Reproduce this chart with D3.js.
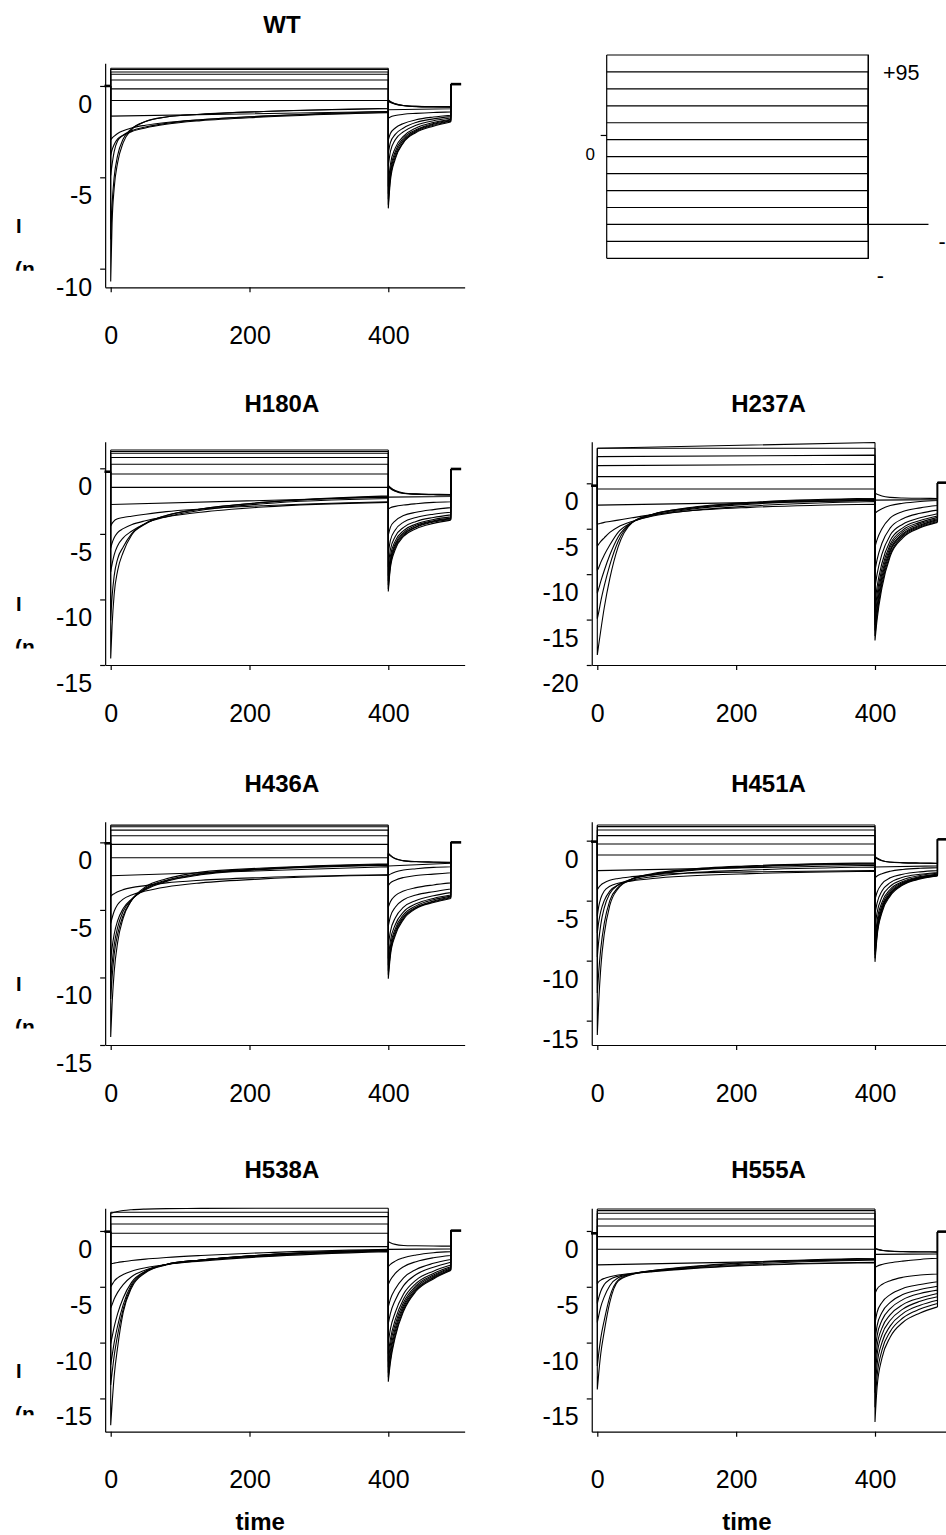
<!DOCTYPE html>
<html><head><meta charset="utf-8">
<script src="https://cdn.jsdelivr.net/npm/d3@7"></script>
<style>
html,body{margin:0;padding:0;background:#fff;}
svg{display:block;}
</style></head><body>
<svg id="chart" width="946" height="1535"></svg>
<script>
// ---------------- DATA ----------------
const pulseTimes = [0, 2, 5, 10, 18, 30, 50, 80, 130, 220, 400];
const tailTimes = [400, 403, 410, 422, 440, 465, 490];
const xTickValues = [0, 200, 400];
const panelNames = ["WT", "H180A", "H237A", "H436A", "H451A", "H538A", "H555A"];
const yDomains = [[-11.02, 1.24], [-15, 2.03], [-20, 4.58], [-15, 1.53], [-17.03, 1.58], [-17.98, 2.03], [-17.98, 2.03]];
const yTickValues = [[0, -5, -10], [0, -5, -10, -15], [0, -5, -10, -15, -20], [0, -5, -10, -15], [0, -5, -10, -15], [0, -5, -10, -15], [0, -5, -10, -15]];
const holdingCurrent = [0, -0.26, -0.26, -0.07, -0.08, -0.06, -0.21];
const postCurrent = [0.1, -0.05, 0.07, 0, 0.11, 0.03, -0.06];

// pulse traces (values at pulseTimes; a single number = flat, two numbers = start/end)
const wtPulse = [0.97, 0.9, 0.76, 0.64, 0.33, -0.16, -0.80,
  [-1.65, -1.4],
  [-2.95, -2.85, -2.75, -2.6, -2.45, -2.3, -2.15, -2.0, -1.85, -1.65, -1.45],
  [-3.8, -3.5, -3.2, -2.9, -2.7, -2.5, -2.3, -2.1, -1.9, -1.7, -1.45],
  [-4.9, -4.3, -3.6, -3.0, -2.7, -2.45, -2.25, -2.05, -1.85, -1.65, -1.4],
  [-8.4, -6.5, -5.0, -3.8, -2.9, -2.35, -1.95, -1.7, -1.55, -1.4, -1.25],
  [-10.7, -7.5, -5.6, -4.2, -3.1, -2.4, -1.95, -1.7, -1.55, -1.4, -1.22]];
const wtTail = [
  [-6.7, -5.2, -4.0, -3.1, -2.55, -2.2, -1.97],
  [-6.5, -5.0, -3.9, -3.05, -2.5, -2.15, -1.93],
  [-6.2, -4.8, -3.75, -2.95, -2.45, -2.1, -1.9],
  [-5.9, -4.6, -3.6, -2.85, -2.4, -2.05, -1.86],
  [-5.5, -4.3, -3.4, -2.75, -2.3, -2.0, -1.82],
  [-4.4, -3.6, -2.95, -2.5, -2.15, -1.9, -1.75],
  [-3.7, -3.1, -2.65, -2.3, -2.0, -1.8, -1.68],
  [-2.96, -2.6, -2.3, -2.05, -1.85, -1.7, -1.6],
  [-1.77, -1.7, -1.62, -1.55, -1.5, -1.45, -1.42],
  [-1.3, -1.25],
  [-0.77, -0.85, -0.97, -1.07, -1.12, -1.13, -1.13],
  [-0.8, -0.88, -0.98, -1.07, -1.12, -1.14, -1.15],
  [-0.85, -0.9, -1.0, -1.08, -1.13, -1.15, -1.16]];

const h180aPulse = [1.4, 1.28, 1.15, 0.82, 0.31, -0.43, -1.45,
  [-2.76, -2.2],
  [-4.4, -4.2, -4.0, -3.85, -3.75, -3.65, -3.5, -3.3, -3.1, -2.85, -2.55],
  [-6.1, -5.7, -5.3, -4.9, -4.6, -4.3, -4.0, -3.7, -3.35, -2.95, -2.6],
  [-7.9, -7.3, -6.6, -5.9, -5.3, -4.8, -4.2, -3.7, -3.2, -2.7, -2.3],
  [-11.6, -9.8, -8.2, -6.9, -6.0, -5.0, -4.2, -3.6, -3.1, -2.6, -2.15],
  [-14.5, -12.0, -9.6, -7.8, -6.4, -5.1, -4.25, -3.6, -3.1, -2.6, -2.1]];
const h180aTail = [
  [-9.4, -7.6, -6.2, -5.2, -4.6, -4.2, -3.95],
  [-9.2, -7.4, -6.05, -5.1, -4.5, -4.1, -3.9],
  [-8.9, -7.2, -5.9, -5.0, -4.45, -4.05, -3.85],
  [-8.6, -7.0, -5.75, -4.9, -4.35, -4.0, -3.8],
  [-8.2, -6.7, -5.55, -4.75, -4.25, -3.9, -3.7],
  [-7.5, -6.2, -5.2, -4.5, -4.05, -3.75, -3.55],
  [-6.5, -5.5, -4.7, -4.1, -3.75, -3.5, -3.35],
  [-5.1, -4.5, -4.0, -3.6, -3.35, -3.15, -3.0],
  [-3.1, -3.0, -2.9, -2.8, -2.7, -2.6, -2.55],
  [-2.2, -2.15],
  [-1.3, -1.45, -1.7, -1.88, -1.95, -1.98, -2.0],
  [-1.35, -1.5, -1.72, -1.9, -1.97, -2.0, -2.02],
  [-1.4, -1.55, -1.75, -1.92, -1.98, -2.02, -2.05]];

const h237aPulse = [[3.86, 4.49], 3.86, [2.94, 3.1], [1.95, 2.1], 0.74, -0.63, [-2.4, -1.9],
  [-4.5, -4.45, -4.4, -4.3, -4.2, -4.05, -3.8, -3.45, -3.05, -2.65, -2.3],
  [-6.9, -6.7, -6.4, -6.0, -5.4, -4.8, -4.2, -3.6, -3.05, -2.5, -2.0],
  [-9.6, -9.3, -8.7, -7.9, -6.8, -5.4, -4.3, -3.55, -2.9, -2.3, -1.85],
  [-12.1, -11.6, -10.8, -9.6, -7.9, -5.9, -4.3, -3.45, -2.8, -2.2, -1.75],
  [-14.9, -14.2, -13.0, -11.3, -9.0, -6.4, -4.3, -3.4, -2.75, -2.15, -1.7],
  [-18.9, -17.8, -16.2, -13.7, -10.5, -7.0, -4.35, -3.4, -2.7, -2.1, -1.65]];
const h237aTail = [
  [-17.3, -15.0, -11.5, -8.0, -6.0, -4.9, -4.3],
  [-16.8, -14.5, -11.1, -7.8, -5.85, -4.8, -4.2],
  [-16.2, -14.0, -10.7, -7.5, -5.7, -4.7, -4.1],
  [-15.6, -13.5, -10.3, -7.3, -5.55, -4.6, -4.0],
  [-15.0, -12.9, -9.9, -7.0, -5.35, -4.45, -3.9],
  [-14.2, -12.2, -9.4, -6.7, -5.15, -4.3, -3.75],
  [-13.2, -11.4, -8.8, -6.3, -4.9, -4.1, -3.6],
  [-11.5, -10.0, -7.8, -5.7, -4.5, -3.8, -3.35],
  [-9.6, -8.4, -6.6, -4.9, -3.9, -3.3, -2.95],
  [-7.0, -6.2, -5.0, -3.8, -3.1, -2.7, -2.45],
  [-3.3, -3.1, -2.8, -2.45, -2.2, -2.0, -1.9],
  [-1.85, -1.8],
  [-1.1, -1.2, -1.4, -1.55, -1.62, -1.65, -1.67]];

const h436aPulse = [1.28, 1.16, 0.91, 0.49, -0.15, -1.14, [-2.47, -1.8],
  [-4.0, -3.9, -3.8, -3.65, -3.5, -3.35, -3.2, -3.0, -2.8, -2.6, -2.4],
  [-6.0, -5.6, -5.1, -4.6, -4.2, -3.9, -3.6, -3.3, -3.0, -2.7, -2.42],
  [-8.7, -7.8, -6.8, -5.8, -4.9, -4.2, -3.5, -2.9, -2.4, -2.0, -1.7],
  [-10.2, -9.0, -7.6, -6.3, -5.1, -4.25, -3.45, -2.85, -2.35, -1.98, -1.66],
  [-11.6, -10.0, -8.3, -6.8, -5.4, -4.3, -3.4, -2.8, -2.3, -1.95, -1.62],
  [-14.4, -12.0, -9.6, -7.4, -5.6, -4.3, -3.3, -2.7, -2.2, -1.9, -1.58]];
const h436aTail = [
  [-10.1, -8.4, -6.9, -5.7, -4.9, -4.45, -4.15],
  [-9.8, -8.2, -6.75, -5.6, -4.85, -4.4, -4.1],
  [-9.5, -8.0, -6.6, -5.5, -4.8, -4.35, -4.05],
  [-9.1, -7.7, -6.4, -5.35, -4.7, -4.25, -3.98],
  [-8.6, -7.3, -6.1, -5.15, -4.55, -4.15, -3.9],
  [-7.6, -6.6, -5.6, -4.8, -4.3, -3.95, -3.72],
  [-6.2, -5.5, -4.8, -4.25, -3.9, -3.65, -3.45],
  [-4.8, -4.4, -3.95, -3.6, -3.35, -3.15, -3.0],
  [-3.2, -3.0, -2.8, -2.6, -2.45, -2.35, -2.25],
  [-2.45, -2.35, -2.2, -2.05, -1.95, -1.85, -1.8],
  [-1.75, -1.55],
  [-0.8, -0.95, -1.2, -1.35, -1.42, -1.45, -1.47],
  [-0.85, -1.0, -1.22, -1.37, -1.44, -1.47, -1.5]];

const h451aPulse = [1.3, 1.17, 0.89, 0.42, -0.28, -1.19, [-2.5, -2.05],
  [-4.1, -3.9, -3.7, -3.5, -3.3, -3.15, -3.0, -2.85, -2.7, -2.6, -2.5],
  [-6.3, -5.5, -4.8, -4.2, -3.8, -3.55, -3.35, -3.15, -2.95, -2.75, -2.55],
  [-7.7, -6.8, -5.9, -5.0, -4.2, -3.7, -3.3, -3.0, -2.7, -2.45, -2.2],
  [-9.7, -8.4, -7.0, -5.6, -4.4, -3.7, -3.2, -2.85, -2.5, -2.2, -1.95],
  [-12.7, -11.0, -9.0, -6.9, -5.0, -3.9, -3.2, -2.8, -2.45, -2.15, -1.9],
  [-16.2, -13.5, -10.6, -7.8, -5.4, -4.0, -3.2, -2.75, -2.4, -2.1, -1.85]];
const h451aTail = [
  [-10.1, -8.0, -6.0, -4.6, -3.7, -3.2, -2.95],
  [-9.8, -7.8, -5.85, -4.5, -3.65, -3.15, -2.92],
  [-9.5, -7.6, -5.7, -4.45, -3.6, -3.12, -2.9],
  [-9.2, -7.4, -5.6, -4.35, -3.55, -3.1, -2.87],
  [-8.8, -7.1, -5.4, -4.2, -3.48, -3.05, -2.83],
  [-8.3, -6.7, -5.15, -4.05, -3.4, -3.0, -2.8],
  [-7.2, -6.0, -4.7, -3.8, -3.25, -2.9, -2.72],
  [-6.1, -5.2, -4.2, -3.5, -3.05, -2.8, -2.65],
  [-4.9, -4.3, -3.6, -3.1, -2.8, -2.6, -2.5],
  [-3.1, -2.95, -2.75, -2.55, -2.4, -2.3, -2.25],
  [-2.2, -2.1],
  [-1.33, -1.45, -1.65, -1.78, -1.83, -1.86, -1.88],
  [-1.4, -1.5, -1.68, -1.8, -1.85, -1.88, -1.9]];

const h538aPulse = [[1.58, 1.62, 1.68, 1.75, 1.83, 1.9, 1.96, 2.0, 2.02, 2.03, 2.03], 1.67, 1.28, 0.63, -0.21, -1.4,
  [-2.96, -2.92, -2.88, -2.82, -2.75, -2.65, -2.52, -2.38, -2.2, -1.95, -1.65],
  [-5.0, -4.8, -4.5, -4.2, -3.9, -3.6, -3.3, -3.0, -2.7, -2.3, -1.85],
  [-6.9, -6.6, -6.1, -5.5, -4.8, -4.1, -3.5, -3.0, -2.65, -2.25, -1.8],
  [-10.1, -9.5, -8.6, -7.4, -6.0, -4.6, -3.6, -3.0, -2.6, -2.2, -1.75],
  [-12.0, -11.2, -10.0, -8.5, -6.6, -4.8, -3.65, -3.0, -2.6, -2.15, -1.72],
  [-13.8, -12.7, -11.2, -9.3, -7.0, -4.95, -3.7, -3.0, -2.6, -2.15, -1.7],
  [-17.4, -15.5, -13.0, -10.4, -7.3, -5.1, -3.75, -3.05, -2.6, -2.15, -1.68]];
const h538aTail = [
  [-13.5, -11.8, -9.5, -7.2, -5.4, -4.3, -3.55],
  [-13.1, -11.5, -9.3, -7.05, -5.3, -4.22, -3.5],
  [-12.7, -11.1, -9.0, -6.85, -5.2, -4.15, -3.45],
  [-12.2, -10.7, -8.7, -6.65, -5.05, -4.05, -3.38],
  [-11.7, -10.2, -8.35, -6.4, -4.9, -3.95, -3.3],
  [-11.0, -9.7, -7.95, -6.1, -4.7, -3.8, -3.2],
  [-10.0, -8.8, -7.3, -5.65, -4.4, -3.6, -3.05],
  [-8.3, -7.4, -6.2, -4.9, -3.9, -3.25, -2.8],
  [-6.8, -6.1, -5.2, -4.2, -3.45, -2.9, -2.55],
  [-4.8, -4.4, -3.8, -3.2, -2.75, -2.4, -2.2],
  [-3.2, -3.0, -2.7, -2.4, -2.15, -1.95, -1.85],
  [-1.65, -1.6],
  [-0.96, -1.05, -1.2, -1.3, -1.33, -1.35, -1.36]];

const h555aPulse = [1.97, 1.82, 1.58, 1.07, 0.45, -0.51, -1.64, [-3.04, -2.55],
  [-4.75, -4.55, -4.4, -4.25, -4.1, -3.95, -3.8, -3.6, -3.35, -3.05, -2.8],
  [-6.5, -6.0, -5.4, -4.8, -4.35, -4.05, -3.85, -3.65, -3.4, -3.1, -2.85],
  [-8.2, -7.6, -6.8, -5.9, -4.9, -4.2, -3.85, -3.6, -3.3, -2.95, -2.6],
  [-12.1, -11.0, -9.6, -8.0, -5.9, -4.4, -3.85, -3.55, -3.25, -2.85, -2.5],
  [-14.2, -12.8, -11.0, -9.0, -6.4, -4.5, -3.9, -3.55, -3.2, -2.8, -2.45]];
const h555aTail = [
  [-17.1, -14.0, -11.4, -9.5, -8.2, -7.35, -6.8],
  [-15.8, -13.0, -10.7, -9.0, -7.8, -7.0, -6.5],
  [-14.5, -12.0, -10.0, -8.5, -7.4, -6.65, -6.2],
  [-13.3, -11.1, -9.3, -8.0, -7.0, -6.3, -5.9],
  [-12.2, -10.3, -8.7, -7.5, -6.6, -6.0, -5.6],
  [-11.0, -9.4, -8.0, -6.95, -6.15, -5.6, -5.3],
  [-9.8, -8.5, -7.3, -6.4, -5.7, -5.25, -4.95],
  [-8.3, -7.3, -6.4, -5.7, -5.15, -4.8, -4.55],
  [-5.6, -5.2, -4.8, -4.45, -4.15, -3.95, -3.85],
  [-3.25, -3.15, -3.0, -2.85, -2.7, -2.55, -2.45],
  [-2.1, -2.05],
  [-1.55, -1.62, -1.72, -1.8, -1.84, -1.86, -1.87],
  [-1.6, -1.65, -1.75, -1.82, -1.86, -1.88, -1.9]];

const pulseSets = [wtPulse, h180aPulse, h237aPulse, h436aPulse, h451aPulse, h538aPulse, h555aPulse];
const tailSets = [wtTail, h180aTail, h237aTail, h436aTail, h451aTail, h538aTail, h555aTail];

// voltage protocol (mV)
const protocolLevels = [95, 75, 55, 35, 15, -5, -25, -45, -65, -85, -105, -125, -145];
const protocolTailV = -105;
const protocolTimes = [0, 400, 492];
const protocolLabelTexts = ["+95", "0", "-", "-"];

const yLabelLines = ["I", "(n"];
const xLabelText = "time";

// ---------------- LAYOUT ----------------
const FONT = '"Liberation Sans", Arial, Helvetica, sans-serif';
const svg = d3.select("#chart");
const cols = [{x0: 110.7, x400: 388.3}, {x0: 597.3, x400: 875}];
const rows = [{top: 63.3, bottom: 287.3}, {top: 441.7, bottom: 665}, {top: 821.7, bottom: 1045}, {top: 1208.3, bottom: 1431.7}];
const panelCells = [[0, 0], [1, 0], [1, 1], [2, 0], [2, 1], [3, 0], [3, 1]];
const axisStart = -8, axisEnd = 510, preStart = -9, postEnd = 505;

function toPoints(v, times) {
  const t0 = times[0], t1 = times[times.length - 1];
  if (typeof v === "number") return [[t0, v], [t1, v]];
  if (v.length === 2) return [[t0, v[0]], [t1, v[1]]];
  return v.map((d, i) => [times[i], d]);
}

const defs = svg.append("defs");

panelNames.forEach((name, i) => {
  const [r, c] = panelCells[i];
  const col = cols[c], row = rows[r];
  const x = d3.scaleLinear().domain([0, 400]).range([col.x0, col.x400]);
  const y = d3.scaleLinear().domain(yDomains[i]).range([row.bottom, row.top]);
  const g = svg.append("g");
  const lineLin = d3.line().x(d => x(d[0])).y(d => y(d[1]));
  const lineMono = d3.line().x(d => x(d[0])).y(d => y(d[1])).curve(d3.curveMonotoneX);
  const hold = holdingCurrent[i], post = postCurrent[i];
  const tEnd = tailTimes[tailTimes.length - 1];

  // axes
  const xAxisScale = d3.scaleLinear().domain([axisStart, axisEnd]).range([x(axisStart), x(axisEnd)]);
  const gx = g.append("g").attr("transform", `translate(0,${row.bottom})`)
    .call(d3.axisBottom(xAxisScale).tickValues(xTickValues).tickSize(5).tickSizeOuter(0).tickFormat(d => String(d)));
  gx.attr("font-size", 25).attr("font-family", FONT);
  gx.selectAll(".tick text").attr("y", 48).attr("dy", "0.35em");
  const gy = g.append("g").attr("transform", `translate(${x(axisStart)},0)`)
    .call(d3.axisLeft(y).tickValues(yTickValues[i]).tickSize(5).tickPadding(8).tickSizeOuter(0).tickFormat(d => String(d)));
  gy.attr("font-size", 25).attr("font-family", FONT);
  gy.selectAll(".tick text").attr("y", 18.5);
  g.selectAll(".domain, .tick line").attr("stroke", "#000").attr("stroke-width", 1.2);

  // traces
  const tg = g.append("g").attr("fill", "none").attr("stroke", "#000").attr("stroke-width", 1.1);
  pulseSets[i].forEach((p, k) => {
    const pp = toPoints(p, pulseTimes);
    const tp = toPoints(tailSets[i][k], tailTimes);
    const d = lineLin([[0, hold], pp[0]]) + lineMono(pp) +
      lineLin([pp[pp.length - 1], tp[0]]) + lineMono(tp) +
      lineLin([tp[tp.length - 1], [tEnd, post]]);
    tg.append("path").attr("d", d);
  });
  tg.append("path").attr("stroke-width", 2.6).attr("d", lineLin([[preStart, hold], [0, hold]]));
  tg.append("path").attr("stroke-width", 2.6).attr("d", lineLin([[tEnd, post], [postEnd, post]]));

  // title
  g.append("text").attr("x", x(200) + 32.4).attr("y", row.top - 38.5).attr("dy", "0.35em")
    .attr("text-anchor", "middle").attr("font-family", FONT).attr("font-weight", "bold")
    .attr("font-size", 24).text(name);

  // y label (left column only)
  if (c === 0) {
    g.append("text").attr("x", 18.7).attr("y", row.bottom - 54).attr("text-anchor", "middle")
      .attr("font-family", FONT).attr("font-weight", "bold").attr("font-size", 20).text(yLabelLines[0]);
    const cid = "clipY" + i;
    defs.append("clipPath").attr("id", cid).append("rect")
      .attr("x", 0).attr("y", row.bottom - 40).attr("width", 60).attr("height", 23.5);
    g.append("text").attr("x", 15).attr("y", row.bottom - 11).attr("clip-path", `url(#${cid})`)
      .attr("font-family", FONT).attr("font-weight", "bold").attr("font-size", 21).text(yLabelLines[1]);
  }
  // x label (bottom row)
  if (r === 3) {
    g.append("text").attr("x", x(200) + 10.7).attr("y", 1522).attr("dy", "0.35em")
      .attr("text-anchor", "middle").attr("font-family", FONT).attr("font-weight", "bold")
      .attr("font-size", 24).text(xLabelText);
  }
});

// ---------------- PROTOCOL PANEL ----------------
(function () {
  const px = d3.scaleLinear().domain([0, 400]).range([606.7, 868.3]);
  const py = d3.scaleLinear().domain([-145, 95]).range([258.3, 55]);
  const g = svg.append("g").attr("fill", "none").attr("stroke", "#000").attr("stroke-width", 1.2);
  const line = d3.line().x(d => px(d[0])).y(d => py(d[1]));
  const [t0, t1, t2] = protocolTimes;
  protocolLevels.forEach(v => {
    g.append("path").attr("d", line([[t0, v], [t1, v], [t1, protocolTailV]]));
  });
  g.append("path").attr("d", line([[t1, protocolTailV], [t2, protocolTailV]]));
  const ext = d3.extent(protocolLevels);
  g.append("path").attr("d", line([[t0, ext[0]], [t0, ext[1]]]));
  g.append("path").attr("d", line([[t1, ext[0]], [t1, ext[1]]]));
  // tick at 0 mV
  g.append("line").attr("x1", px(t0) - 6).attr("x2", px(t0)).attr("y1", py(0)).attr("y2", py(0));

  const tg = svg.append("g").attr("font-family", FONT).attr("fill", "#000");
  tg.append("text").attr("x", 883).attr("y", py(95) + 17.5).attr("dy", "0.35em")
    .attr("font-size", 21.5).text(protocolLabelTexts[0]);
  tg.append("text").attr("x", 595).attr("y", py(0) + 19).attr("dy", "0.35em")
    .attr("text-anchor", "end").attr("font-size", 17).text(protocolLabelTexts[1]);
  tg.append("text").attr("x", 938.5).attr("y", py(protocolTailV) + 17.3).attr("dy", "0.35em")
    .attr("font-size", 21.5).text(protocolLabelTexts[2]);
  tg.append("text").attr("x", 876.8).attr("y", py(-145) + 17).attr("dy", "0.35em")
    .attr("font-size", 21.5).text(protocolLabelTexts[3]);
})();
</script>
</body></html>
